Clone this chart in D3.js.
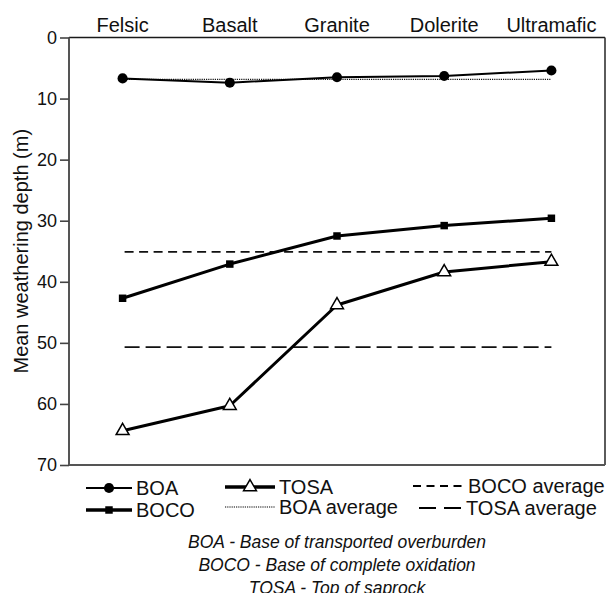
<!DOCTYPE html>
<html>
<head>
<meta charset="utf-8">
<script src="https://cdn.jsdelivr.net/npm/d3@7"></script>
<style>
  html, body { margin: 0; padding: 0; background: #fff; }
  svg { display: block; font-family: "Liberation Sans", Arial, sans-serif; }
</style>
</head>
<body>
<svg id="chart" width="608" height="593"></svg>
<script>
// Rock types along the top axis
const categories = ["Felsic", "Basalt", "Granite", "Dolerite", "Ultramafic"];

// Mean weathering depths (m) per rock type
const boa  = [6.7, 7.4, 6.5, 6.3, 5.4];
const boco = [42.7, 37.1, 32.5, 30.8, 29.6];
const tosa = [64.4, 60.3, 43.8, 38.4, 36.7];

// Averages across all rock types
const boaAverage  = 6.85;
const bocoAverage = 35.1;
const tosaAverage = 50.7;

const yTicks = [0, 10, 20, 30, 40, 50, 60, 70];

const captions = [
  "BOA - Base of transported overburden",
  "BOCO - Base of complete oxidation",
  "TOSA - Top of saprock"
];

const svg = d3.select("#chart");
const plotLeft = 69, plotRight = 605, plotTop = 37.5, plotBottom = 465;

const x = d3.scalePoint().domain(categories).range([plotLeft, plotRight]).padding(0.5);
const y = d3.scaleLinear().domain([0, 70]).range([plotTop, plotBottom]);

// Frame
svg.append("line").attr("x1", plotLeft).attr("x2", plotRight).attr("y1", plotTop).attr("y2", plotTop)
  .attr("stroke", "#1a1a1a").attr("stroke-width", 1.6);
svg.append("line").attr("x1", plotRight).attr("x2", plotRight).attr("y1", plotTop).attr("y2", plotBottom)
  .attr("stroke", "#333").attr("stroke-width", 1.6);
svg.append("line").attr("x1", plotLeft).attr("x2", plotRight).attr("y1", plotBottom).attr("y2", plotBottom)
  .attr("stroke", "#555").attr("stroke-width", 2);

// Left axis with ticks
const yAxis = d3.axisLeft(y).tickValues(yTicks).tickSize(9).tickPadding(3);
const gy = svg.append("g").attr("transform", `translate(${plotLeft},0)`).call(yAxis);
gy.select(".domain").attr("stroke", "#555").attr("stroke-width", 2).attr("d", `M0,${plotTop}V${plotBottom}`);
gy.selectAll(".tick line").attr("stroke", "#444").attr("stroke-width", 1.6);
gy.selectAll(".tick text").attr("font-size", 18).attr("fill", "#111")
  .attr("font-family", "'Liberation Sans', Arial, sans-serif");

// Category labels above the plot
svg.append("g").selectAll("text").data(categories).join("text")
  .attr("x", d => x(d)).attr("y", 31.5)
  .attr("text-anchor", "middle").attr("font-size", 20).attr("fill", "#111")
  .text(d => d);

// Y axis title
svg.append("text")
  .attr("transform", `translate(28,${(plotTop + plotBottom) / 2}) rotate(-90)`)
  .attr("text-anchor", "middle").attr("font-size", 20).attr("fill", "#111")
  .text("Mean weathering depth (m)");

// Average reference lines
const x0 = x(categories[0]), x1 = x(categories[categories.length - 1]);
function hline(v, dash, w) {
  svg.append("line").attr("x1", x0 + 2).attr("x2", x1).attr("y1", y(v)).attr("y2", y(v))
    .attr("stroke", "#111").attr("stroke-width", w).attr("stroke-dasharray", dash);
}
hline(boaAverage, "1.2,1", 1.2);
hline(bocoAverage, "9,5.5", 1.8);
hline(tosaAverage, "15,6", 1.8);

// Series lines
const line = d3.line().x((d, i) => x(categories[i])).y(d => y(d));
function series(values, w) {
  svg.append("path").datum(values).attr("d", line)
    .attr("fill", "none").attr("stroke", "#000").attr("stroke-width", w)
    .attr("stroke-linejoin", "round");
}
series(boa, 2);
series(boco, 3);
series(tosa, 3);

// Markers
const circle = d3.symbol(d3.symbolCircle, 80)();
const square = d3.symbol(d3.symbolSquare, 56)();
const triangle = d3.symbol(d3.symbolTriangle, 72)();
function markers(values, path, fill) {
  svg.append("g").selectAll("path").data(values).join("path")
    .attr("transform", (d, i) => `translate(${x(categories[i])},${y(d)})`)
    .attr("d", path).attr("fill", fill).attr("stroke", "#000").attr("stroke-width", fill === "#fff" ? 1.5 : 0);
}
markers(boa, circle, "#000");
markers(boco, square, "#000");
markers(tosa, triangle, "#fff");

// Legend
const legendItems = [
  { label: "BOA", x: 86, y: 488, w: 46, width: 2, dash: null, marker: circle, fill: "#000" },
  { label: "BOCO", x: 86, y: 510, w: 46, width: 3.5, dash: null, marker: square, fill: "#000" },
  { label: "TOSA", x: 225, y: 487, w: 50, width: 3.5, dash: null, marker: triangle, fill: "#fff" },
  { label: "BOA average", x: 225, y: 507, w: 50, width: 1.2, dash: "1.2,1", marker: null },
  { label: "BOCO average", x: 413, y: 486, w: 51, width: 1.8, dash: "8,5.5", marker: null },
  { label: "TOSA average", x: 419, y: 508, w: 43, width: 1.8, dash: "17,8", marker: null }
];
const lg = svg.append("g").selectAll("g").data(legendItems).join("g");
lg.append("line")
  .attr("x1", d => d.x).attr("x2", d => d.x + d.w)
  .attr("y1", d => d.y).attr("y2", d => d.y)
  .attr("stroke", "#000").attr("stroke-width", d => d.width)
  .attr("stroke-dasharray", d => d.dash);
lg.filter(d => d.marker).append("path")
  .attr("transform", d => `translate(${d.x + d.w / 2},${d.y})`)
  .attr("d", d => d.marker).attr("fill", d => d.fill)
  .attr("stroke", "#000").attr("stroke-width", d => d.fill === "#fff" ? 1.5 : 0);
lg.append("text")
  .attr("x", d => d.x + d.w + 4).attr("y", d => d.y + 7)
  .attr("font-size", 20).attr("fill", "#111")
  .text(d => d.label);

// Abbreviation notes
svg.append("g").selectAll("text").data(captions).join("text")
  .attr("x", 337).attr("y", (d, i) => 547.5 + i * 23.2)
  .attr("text-anchor", "middle").attr("font-size", 17.5).attr("font-style", "italic")
  .attr("fill", "#111")
  .text(d => d);
</script>
</body>
</html>
